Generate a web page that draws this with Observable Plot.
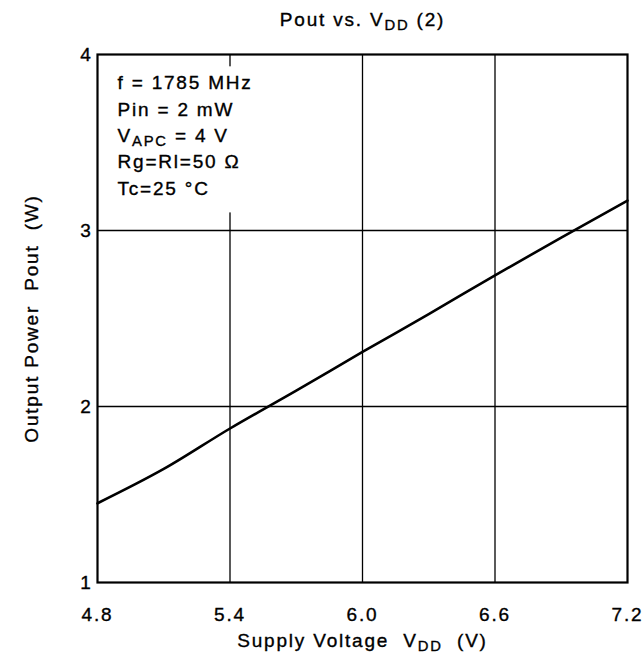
<!DOCTYPE html>
<html>
<head>
<meta charset="utf-8">
<script src="https://cdn.jsdelivr.net/npm/d3@7"></script>
<script src="https://cdn.jsdelivr.net/npm/@observablehq/plot@0.6"></script>
<style>
  html, body { margin: 0; padding: 0; background: #fff; }
  svg text { white-space: pre; stroke: black; stroke-width: 0.35px; }
</style>
</head>
<body>
<div id="chart"></div>
<script>
// Data
const vdd = [4.8, 5.1, 5.4, 5.7, 6.0, 6.3, 6.6, 6.9, 7.2];
const pout = [1.45, 1.645, 1.875, 2.09, 2.31, 2.525, 2.745, 2.96, 3.17];
const xTicks = [4.8, 5.4, 6.0, 6.6, 7.2];
const yTicks = [1, 2, 3, 4];
const xGrid = [5.4, 6.0, 6.6];
const yGrid = [2, 3];
const titleText = "Pout vs. V{DD} (2)";
const xLabel = "Supply Voltage  V{DD}  (V)";
const yLabel = "Output Power  Pout  (W)";
const notes = ["f = 1785 MHz", "Pin = 2 mW", "V{APC} = 4 V", "Rg=Rl=50 \u03A9", "Tc=25 \u00B0C"];
const noteBoxX = [4.836, 5.56];
const noteBoxY = [3.10, 3.93];

const data = vdd.map((v, i) => ({v, p: pout[i]}));
const font = "'Liberation Sans', Arial, Helvetica, sans-serif";

const chart = Plot.plot({
  width: 644,
  height: 665,
  marginLeft: 97,
  marginRight: 17,
  marginTop: 54,
  marginBottom: 83,
  style: {fontFamily: font, fontSize: "19px", color: "black", background: "white", letterSpacing: "1.8px"},
  x: {domain: [4.8, 7.2]},
  y: {domain: [1, 4]},
  marks: [
    Plot.ruleX(xGrid, {stroke: "black", strokeWidth: 1.3}),
    Plot.ruleY(yGrid, {stroke: "black", strokeWidth: 1.3}),
    Plot.rect([0], {x1: () => noteBoxX[0], x2: () => noteBoxX[1], y1: () => noteBoxY[0], y2: () => noteBoxY[1], fill: "white"}),
    Plot.frame({stroke: "black", strokeWidth: 2.2}),
    Plot.line(data, {x: "v", y: "p", stroke: "black", strokeWidth: 2.6, curve: "monotone-x"}),
    Plot.axisX({ticks: xTicks, tickFormat: d => d.toFixed(1), tickSize: 0, tickPadding: 25, fontSize: 19,
      label: xLabel, labelAnchor: "center", labelOffset: 64, labelArrow: "none"}),
    Plot.axisY({ticks: yTicks, tickFormat: d => String(d), tickSize: 0, tickPadding: 5, fontSize: 19,
      label: yLabel, labelAnchor: "center", labelOffset: 73, labelArrow: "none"}),
    Plot.text([notes.join("\n")], {frameAnchor: "top-left", textAnchor: "start", lineAnchor: "top", dx: 20, dy: 16, fontSize: 19, lineHeight: 1.39, fill: "black"}),
    Plot.text([titleText], {frameAnchor: "top", lineAnchor: "middle", dy: -35, fontSize: 19, fill: "black"})
  ]
});

document.getElementById("chart").appendChild(chart);

// Convert {xx} markers into subscript tspans
function subscriptify(node) {
  const txt = node.textContent;
  if (!/\{[^}]*\}/.test(txt)) return;
  while (node.firstChild) node.removeChild(node.firstChild);
  const parts = txt.split(/(\{[^}]*\})/);
  for (const part of parts) {
    if (!part) continue;
    if (part.startsWith("{")) {
      const t = document.createElementNS("http://www.w3.org/2000/svg", "tspan");
      t.setAttribute("baseline-shift", "-4");
      t.setAttribute("font-size", "0.78em");
      t.textContent = part.slice(1, -1);
      node.appendChild(t);
    } else {
      node.appendChild(document.createTextNode(part));
    }
  }
}
d3.select(chart).selectAll("text").each(function() {
  const kids = this.querySelectorAll(":scope > tspan");
  if (kids.length) kids.forEach(subscriptify);
  else subscriptify(this);
});
</script>
</body>
</html>
